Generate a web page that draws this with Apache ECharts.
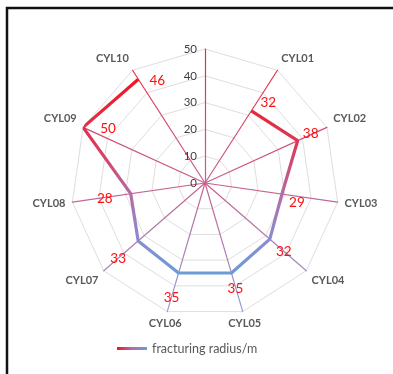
<!DOCTYPE html>
<html>
<head>
<meta charset="utf-8">
<script src="https://cdn.jsdelivr.net/npm/echarts@6/dist/echarts.min.js"></script>
<style>
  html, body { margin: 0; padding: 0; background: #fff; }
  #chart { width: 393px; height: 374px; }
</style>
</head>
<body>
<div id="chart"></div>
<script>
// Wells around the radar; the first spoke (top) is the value scale and carries no data.
const wells = ['', 'CYL01', 'CYL02', 'CYL03', 'CYL04', 'CYL05', 'CYL06', 'CYL07', 'CYL08', 'CYL09', 'CYL10'];
// Fracturing radius (m) per well.
const fractureRadius = [null, 32, 38, 29, 32, 35, 35, 33, 28, 50, 46];
// Value scale along the top spoke.
const radiusTicks = [0, 10, 20, 30, 40, 50];
const seriesName = 'fracturing radius/m';

// Value-label nudges (px) so numbers sit beside their vertices.
const labelNudge = [null, [17, -8], [13, -7], [15, 9], [14, 12], [4, 16], [-7, 25], [-20, 18], [-26, 5], [25, 1], [19, 1]];

const CX = 205, CY = 183, R = 134;
const FONT = 'Lato, "Open Sans", sans-serif';

// Vertical colour ramps (red at top, blue at bottom) for the spokes and the data line.
const spokeRamp = {
  type: 'linear', global: true, x: CX, y: CY - R, x2: CX, y2: CY + R,
  colorStops: [
    { offset: 0, color: '#e82a40' },
    { offset: 0.5, color: '#c8608e' },
    { offset: 1, color: '#8ea2dc' }
  ]
};
const lineRamp = {
  type: 'linear', global: true, x: CX, y: 78, x2: CX, y2: 274,
  colorStops: [
    { offset: 0, color: '#ee1520' },
    { offset: 0.35, color: '#dc3a5c' },
    { offset: 0.6, color: '#b46ca6' },
    { offset: 0.82, color: '#8a8cd0' },
    { offset: 1, color: '#6a9cd8' }
  ]
};
const legendRamp = {
  type: 'linear', x: 0, y: 0, x2: 1, y2: 0,
  colorStops: [
    { offset: 0, color: '#ee1520' },
    { offset: 0.5, color: '#b46ca6' },
    { offset: 1, color: '#6a9cd8' }
  ]
};

const rMax = radiusTicks[radiusTicks.length - 1];
const rStep = radiusTicks[1] - radiusTicks[0];

const chart = echarts.init(document.getElementById('chart'), null, { renderer: 'canvas' });

chart.setOption({
  animation: false,
  backgroundColor: '#fff',
  graphic: [{
    type: 'rect', silent: true, z: 100,
    shape: { x: 7, y: 8, width: 600, height: 600 },
    style: { fill: 'none', stroke: '#111', lineWidth: 2.5 }
  }],
  // Polygon rings and spokes
  radar: {
    center: [CX, CY],
    radius: R,
    startAngle: 90,
    shape: 'polygon',
    splitNumber: radiusTicks.length - 1,
    indicator: wells.map(w => ({ name: w, min: radiusTicks[0], max: rMax })),
    axisName: { show: false },
    axisLabel: { show: false },
    axisTick: { show: false },
    splitArea: { show: false },
    splitLine: { lineStyle: { color: '#dedede', width: 1 } },
    axisLine: { lineStyle: { color: spokeRamp, width: 1.2 } }
  },
  // Polar system carrying the well names, the value scale and the data line
  polar: { center: [CX, CY], radius: R },
  angleAxis: {
    type: 'category',
    data: wells,
    boundaryGap: false,
    startAngle: 90,
    clockwise: true,
    axisLine: { show: false },
    axisTick: { show: false },
    splitLine: { show: false },
    axisLabel: {
      margin: 7,
      color: '#595959',
      fontFamily: FONT,
      fontWeight: 'bold',
      fontSize: 11
    }
  },
  radiusAxis: {
    min: radiusTicks[0],
    max: rMax,
    interval: rStep,
    axisLine: { show: false },
    axisTick: { show: false },
    splitLine: { show: false },
    axisLabel: {
      margin: 8,
      color: '#404040',
      fontFamily: FONT,
      fontSize: 11.5
    },
    z: 10
  },
  legend: {
    left: 117,
    top: 342,
    padding: 0,
    itemWidth: 30,
    itemHeight: 3,
    textStyle: { color: '#595959', fontFamily: FONT, fontSize: 12.5 },
    data: [{ name: seriesName, icon: 'rect', itemStyle: { color: legendRamp } }]
  },
  series: [{
    name: seriesName,
    type: 'line',
    coordinateSystem: 'polar',
    connectNulls: false,
    symbol: 'circle',
    symbolSize: 1,
    showSymbol: true,
    itemStyle: { color: 'rgba(0,0,0,0)' },
    lineStyle: { color: lineRamp, width: 3.2 },
    label: {
      show: true,
      position: 'inside',
      color: '#ff1010',
      fontFamily: FONT,
      fontSize: 13.5
    },
    data: fractureRadius.map((v, i) => v == null ? '-' : {
      value: v,
      label: { offset: labelNudge[i] }
    }),
    z: 5
  }]
});
</script>
</body>
</html>
